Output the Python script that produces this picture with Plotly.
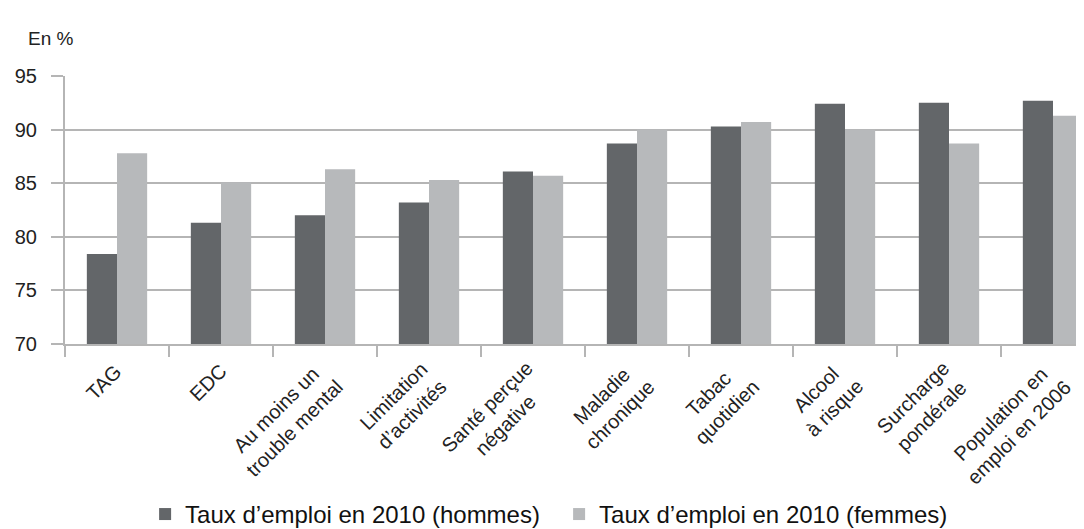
import plotly.graph_objects as go

# categories (axis labels, two lines where the original breaks them)
categories = ["TAG", "EDC", "Au moins un<br>trouble mental", "Limitation<br>d’activités",
              "Santé perçue<br>négative", "Maladie<br>chronique", "Tabac<br>quotidien",
              "Alcool<br>à risque", "Surcharge<br>pondérale", "Population en<br>emploi en 2006"]
# employment rate 2010, in %
hommes = [78.4, 81.3, 82.0, 83.2, 86.1, 88.7, 90.3, 92.4, 92.5, 92.7]
femmes = [87.8, 85.1, 86.3, 85.3, 85.7, 90.0, 90.7, 90.0, 88.7, 91.3]
y_ticks = [70, 75, 80, 85, 90, 95]

FONT = "Liberation Sans, Arial, sans-serif"
GRID = "#b5b5b5"

fig = go.Figure()
fig.add_trace(go.Bar(x=categories, y=hommes, name="Taux d’emploi en 2010 (hommes)",
                     marker=dict(color="#636669", line=dict(width=0))))
fig.add_trace(go.Bar(x=categories, y=femmes, name="Taux d’emploi en 2010 (femmes)",
                     marker=dict(color="#b7b9bb", line=dict(width=0))))

# rotated category labels, centred lines like the original
for c in categories:
    extra = c.count("<br>")
    fig.add_annotation(x=c, xref="x", y=-0.05, yref="paper", text=c, showarrow=False,
                       textangle=-45, align="center", xanchor="right", yanchor="top",
                       xshift=12 + 13 * extra, yshift=3 * extra,
                       font=dict(family=FONT, size=20, color="#222"))

fig.add_annotation(x=-0.038, xref="paper", y=1.14, yref="paper", text="En %", showarrow=False,
                   xanchor="left", yanchor="middle", font=dict(family=FONT, size=19, color="#222"))

fig.update_layout(
    width=1084, height=529,
    margin=dict(l=57, r=0, t=68, b=186),
    paper_bgcolor="white", plot_bgcolor="white",
    barmode="group", bargap=0.42, bargroupgap=0,
    font=dict(family=FONT, size=19, color="#222"),
    showlegend=True,
    legend=dict(orientation="h", x=0.078, xanchor="left", y=-0.636, yanchor="middle",
                entrywidth=369, entrywidthmode="pixels",
                font=dict(family=FONT, size=24, color="#111"), traceorder="normal"),
)
fig.update_xaxes(type="category", range=[-0.5, 9.375], showticklabels=False,
                 tickson="boundaries", ticks="outside", ticklen=11, tickwidth=2, tickcolor=GRID,
                 showline=True, linecolor=GRID, linewidth=2, showgrid=False)
fig.update_yaxes(range=[70, 95], tickvals=y_ticks, ticks="outside", ticklen=12, tickwidth=2,
                 tickcolor=GRID, showgrid=True, gridcolor=GRID, gridwidth=2,
                 showline=True, linecolor=GRID, linewidth=2, zeroline=False,
                 ticklabelstandoff=10, tickfont=dict(family=FONT, size=20, color="#222"))

fig.write_html("out.html")
